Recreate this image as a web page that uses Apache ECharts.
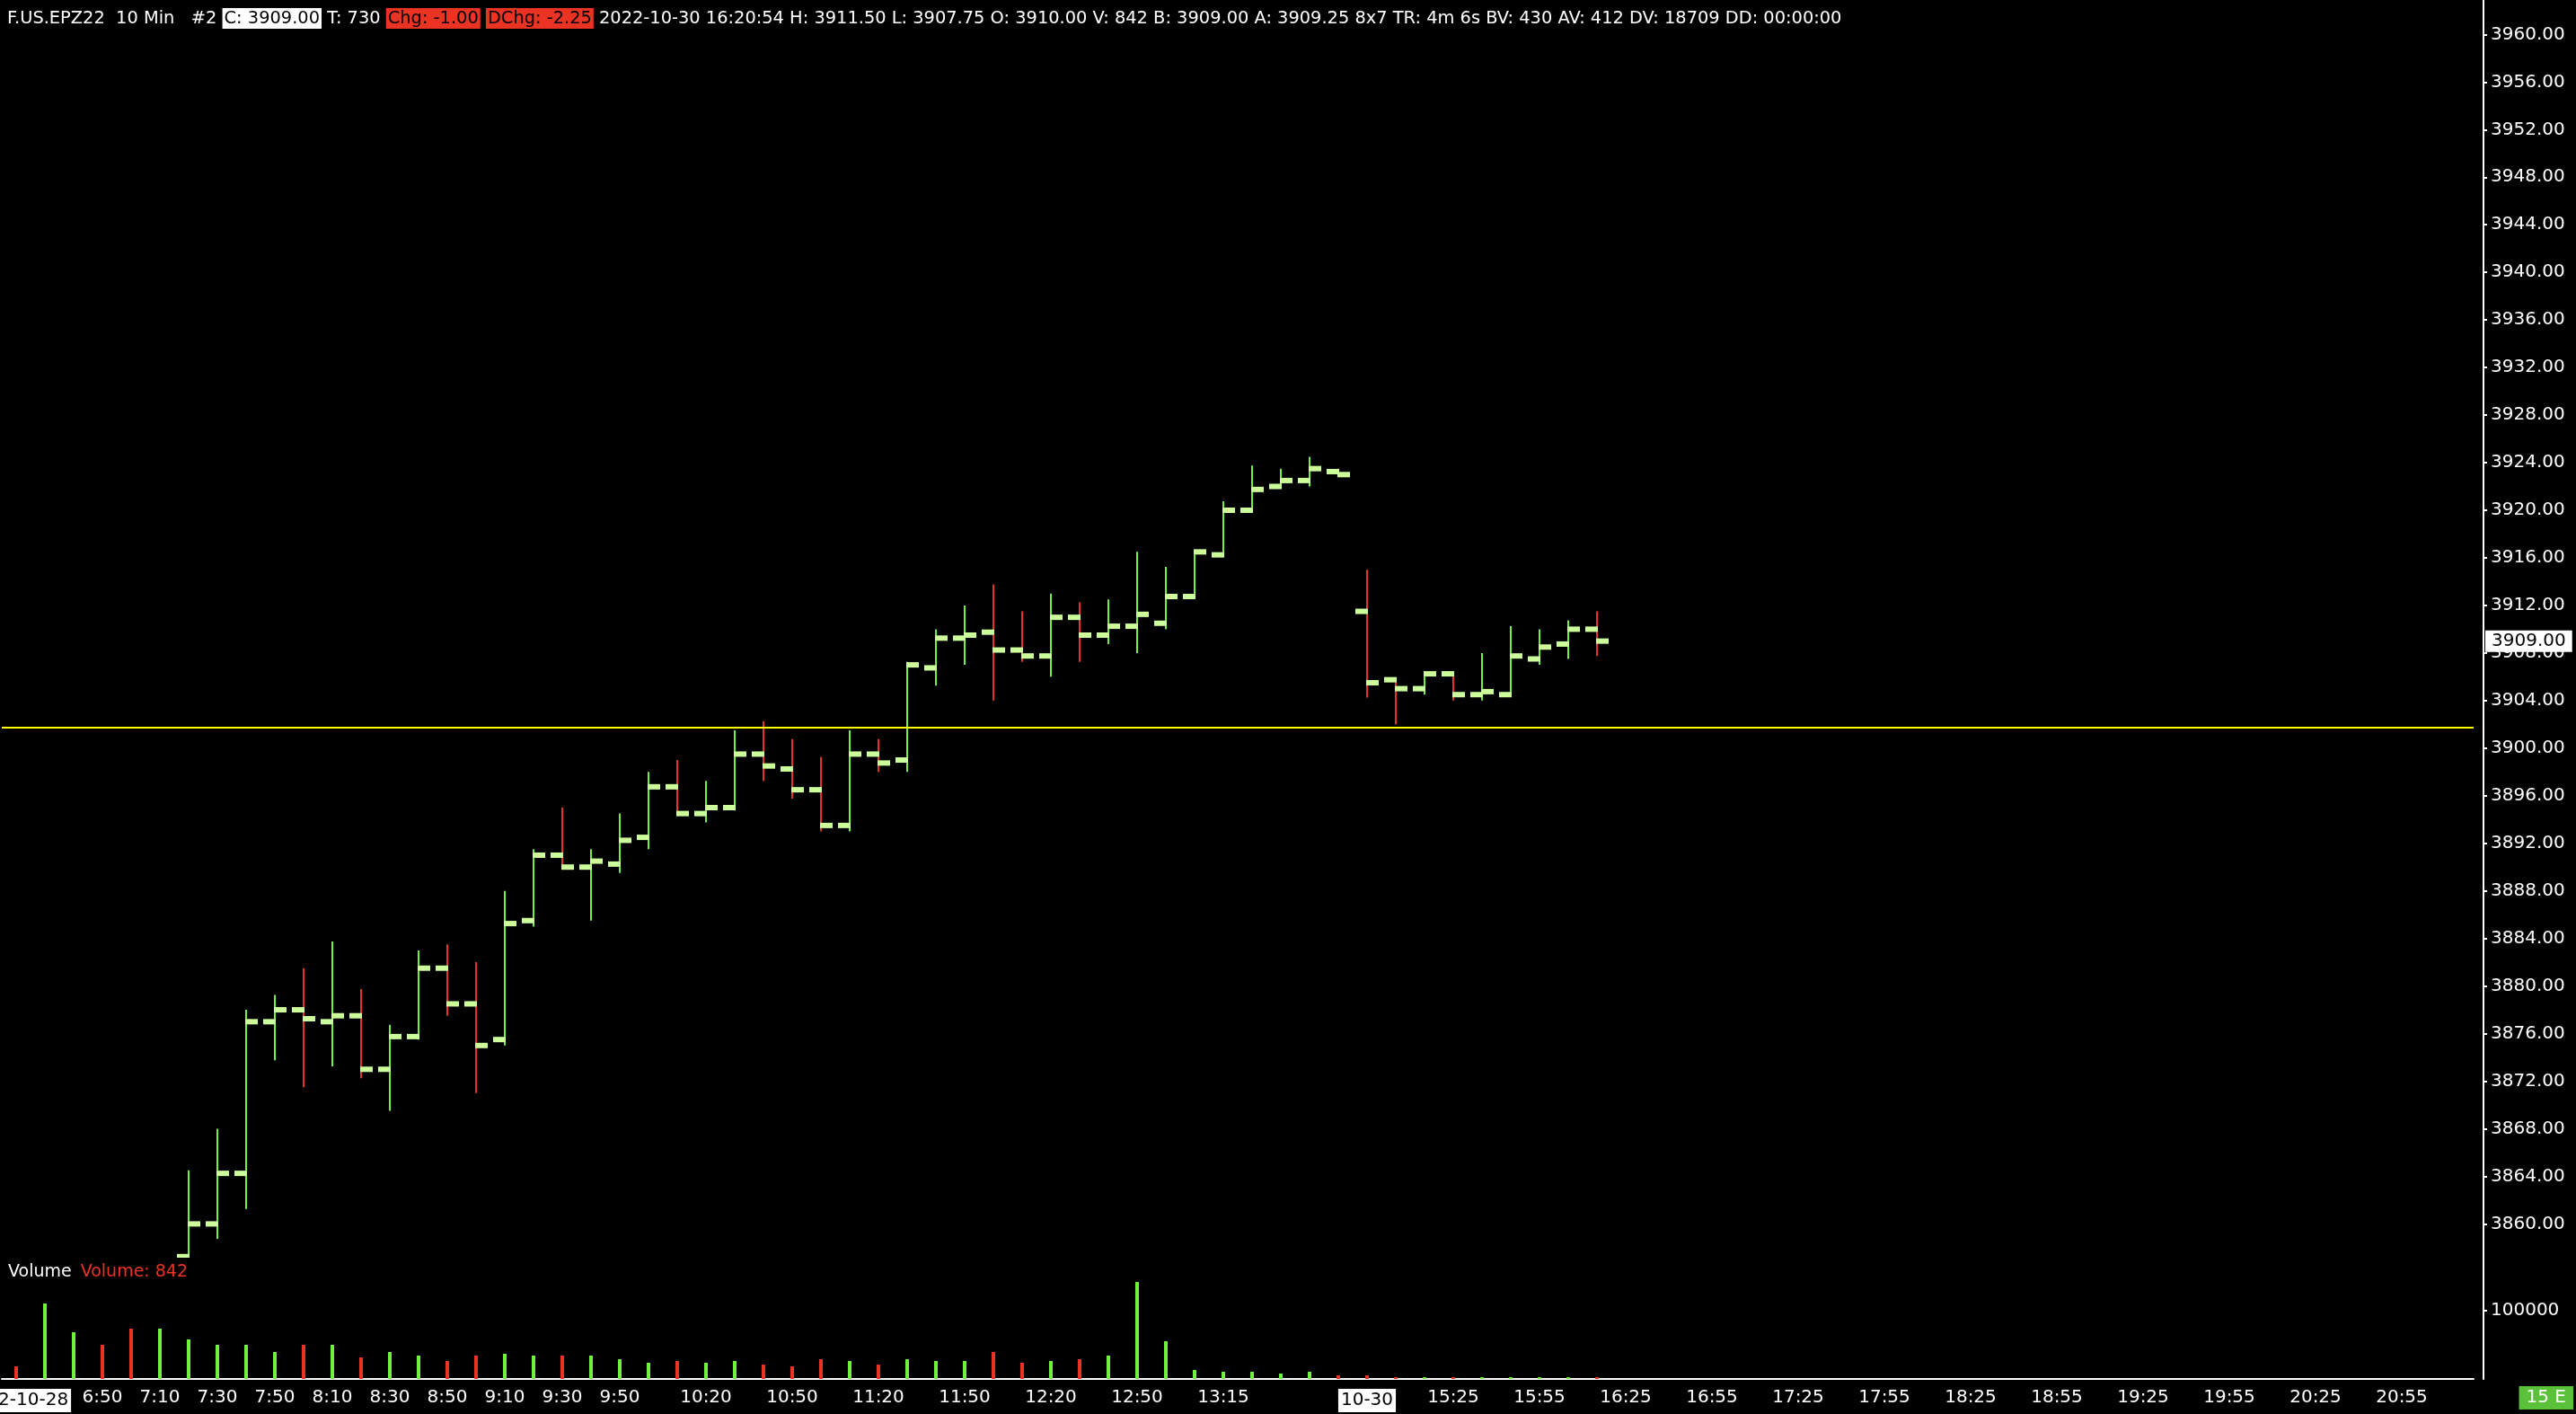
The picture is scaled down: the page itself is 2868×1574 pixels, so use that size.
<!DOCTYPE html>
<html>
<head>
    <meta charset="utf-8">
    <script src="https://cdn.jsdelivr.net/npm/echarts@6/dist/echarts.min.js"></script>
    <style>
        html, body { margin: 0; padding: 0; background: #000; }
    </style>
</head>
<body>
    <div id="main" style="width: 2868px;height:1574px;"></div>
    <script>
        // 10 minute bars, Fri 10-28 day session then Sun 10-30 evening session
        var categories = [
            '6:20', '6:30', '6:40', '6:50', '7:00', '7:10', '7:20', '7:30', '7:40', '7:50',
            '8:00', '8:10', '8:20', '8:30', '8:40', '8:50', '9:00', '9:10', '9:20', '9:30',
            '9:40', '9:50', '10:00', '10:10', '10:20', '10:30', '10:40', '10:50', '11:00', '11:10',
            '11:20', '11:30', '11:40', '11:50', '12:00', '12:10', '12:20', '12:30', '12:40', '12:50',
            '13:00', '13:10', '13:15', '13:25', '13:35', '13:45', '13:55', '14:55', '15:05', '15:15',
            '15:25', '15:35', '15:45', '15:55', '16:05', '16:15', '16:25', '16:35', '16:45', '16:55',
            '17:05', '17:15', '17:25', '17:35', '17:45', '17:55', '18:05', '18:15', '18:25', '18:35',
            '18:45', '18:55', '19:05', '19:15', '19:25', '19:35', '19:45', '19:55', '20:05', '20:15',
            '20:25', '20:35', '20:45', '20:55', '21:05', '21:15'
        ];
        // categories that get a tick + label on the time axis
        var shownTicks = ['6:20', '6:50', '7:10', '7:30', '7:50', '8:10', '8:30', '8:50', '9:10', '9:30',
            '9:50', '10:20', '10:50', '11:20', '11:50', '12:20', '12:50', '13:15', '14:55', '15:25',
            '15:55', '16:25', '16:55', '17:25', '17:55', '18:25', '18:55', '19:25', '19:55', '20:25', '20:55'];
        // session starts show the date instead of the time
        var dateTicks = { '6:20': '2022-10-28', '14:55': '10-30' };

        // price bars, first one visible is 7:20 (earlier bars are below the scale)
        var firstPriceBar = 6;
        var opens = [3857.25, 3860, 3864.25, 3877, 3878, 3877, 3877.5, 3873, 3875.75, 3881.5,
            3878.5, 3875.5, 3885.5, 3891, 3890, 3890.25, 3892.5, 3896.75, 3894.5, 3895,
            3899.5, 3898.25, 3896.5, 3893.5, 3899.5, 3899, 3906.75, 3909.25, 3909.75, 3908.25,
            3907.75, 3911, 3909.5, 3910.25, 3910.5, 3912.75, 3916.25, 3920, 3922, 3922.5,
            3923.25, 3911.5, 3905.75, 3905, 3906.25, 3904.5, 3904.5, 3907.5, 3908.75, 3910];
        var highs = [3864.5, 3868, 3878, 3879.25, 3881.5, 3883.75, 3879.75, 3876.75, 3883, 3883.5,
            3882, 3888, 3891.5, 3895, 3891.5, 3894.5, 3898, 3899, 3897.25, 3901.5,
            3902.25, 3900.75, 3899.25, 3901.5, 3900.75, 3907.25, 3910, 3912, 3913.75, 3911.5,
            3913, 3912.25, 3912.5, 3916.5, 3915.25, 3916.5, 3920.75, 3923.75, 3923.5, 3924.5,
            3923.5, 3915, 3905.75, 3906.25, 3906.25, 3908, 3910.25, 3910, 3910.75, 3911.5];
        var lows = [3857, 3858.75, 3861.25, 3873.75, 3871.5, 3873.25, 3872.25, 3869.5, 3875.5, 3877.5,
            3871, 3875, 3885, 3890, 3885.5, 3889.5, 3891.5, 3894.5, 3893.75, 3894.75,
            3897.25, 3895.75, 3893, 3893, 3898, 3898, 3905.25, 3907, 3904, 3907.25,
            3906, 3907.25, 3908.75, 3908, 3910, 3912.75, 3916.25, 3920, 3922, 3922,
            3923, 3904.25, 3902, 3904.5, 3904, 3904, 3904.5, 3907, 3907.5, 3907.75];
        var closes = [3860, 3864.25, 3877, 3878, 3877.25, 3877.5, 3873, 3875.75, 3881.5, 3878.5,
            3875, 3885.25, 3891, 3890, 3890.5, 3892.25, 3896.75, 3894.5, 3895, 3899.5,
            3898.5, 3896.5, 3893.5, 3899.5, 3898.75, 3907, 3909.25, 3909.5, 3908.25, 3907.75,
            3911, 3909.5, 3910.25, 3911.25, 3912.75, 3916.5, 3920, 3921.75, 3922.5, 3923.5,
            3923, 3905.5, 3905, 3906.25, 3904.5, 3904.75, 3907.75, 3908.5, 3910, 3909];

        var volumes = [18400, 110500, 68400, 50000, 73700, 73700, 57900, 50000, 50000, 39500,
            50000, 50000, 31600, 39500, 34200, 26300, 34200, 36800, 34200, 34200,
            34200, 29000, 23700, 26300, 23700, 26300, 21000, 18400, 29000, 26300,
            21000, 29000, 26300, 26300, 39500, 23700, 26300, 29000, 34200, 142000,
            55300, 13200, 10500, 10500, 7900, 10500, 5300, 5250, 2650, 1320,
            1380, 2300, 2420, 1080, 1467, 842];
        // direction of the bars whose prices are off the scale
        var earlyDirection = ['down', 'up', 'up', 'down', 'down', 'up'];

        var priceTicks = [3860, 3864, 3868, 3872, 3876, 3880, 3884, 3888, 3892, 3896, 3900, 3904, 3908,
            3912, 3916, 3920, 3924, 3928, 3932, 3936, 3940, 3944, 3948, 3952, 3956, 3960];
        var volumeTicks = [100000];
        var referenceLevel = 3901.75;
        var lastPrice = 3909.00;
        var sessionVolume = 842;

        var header = [
            ['n', 'F.US.EPZ22  10 Min   #2 '],
            ['w', 'C: 3909.00'],
            ['n', ' T: 730 '],
            ['r', 'Chg: -1.00'],
            ['n', ' '],
            ['r', 'DChg: -2.25'],
            ['n', ' 2022-10-30 16:20:54 H: 3911.50 L: 3907.75 O: 3910.00 V: 842 B: 3909.00 A: 3909.25 8x7 TR: 4m 6s BV: 430 AV: 412 DV: 18709 DD: 00:00:00']
        ];

        var GREEN = '#6cf43a';
        var RED = '#ea3323';
        var TICK = '#ccff99';
        var FONT = 'DejaVu Sans';

        var ohlcData = [];
        for (var i = 0; i < opens.length; i++) {
            ohlcData.push([firstPriceBar + i, opens[i], highs[i], lows[i], closes[i]]);
        }

        var volumeData = volumes.map(function (v, i) {
            var down;
            if (i < firstPriceBar) {
                down = earlyDirection[i] === 'down';
            } else {
                down = closes[i - firstPriceBar] < opens[i - firstPriceBar];
            }
            return { value: v, itemStyle: { color: down ? RED : GREEN } };
        });

        function renderBar(params, api) {
            var idx = api.value(0);
            var x = api.coord([idx, api.value(1)])[0];
            var yo = api.coord([idx, api.value(1)])[1];
            var yh = api.coord([idx, api.value(2)])[1];
            var yl = api.coord([idx, api.value(3)])[1];
            var yc = api.coord([idx, api.value(4)])[1];
            var down = api.value(4) < api.value(1);
            return {
                type: 'group',
                children: [
                    { type: 'rect', shape: { x: x - 1, y: yh, width: 2, height: Math.max(yl - yh, 1) }, style: { fill: down ? RED : GREEN } },
                    { type: 'rect', shape: { x: x - 13, y: yo - 3, width: 14, height: 6 }, style: { fill: TICK } },
                    { type: 'rect', shape: { x: x - 1, y: yc - 3, width: 14, height: 6 }, style: { fill: TICK } }
                ]
            };
        }

        var headerText = header.map(function (p) { return '{' + p[0] + '|' + p[1] + '}'; }).join('');

        var chart = echarts.init(document.getElementById('main'));

        var axisText = { color: '#fff', fontFamily: FONT, fontSize: 20 };

        var option = {
            backgroundColor: '#000',
            animation: false,
            title: [{
                left: 3,
                top: 4,
                text: headerText,
                textStyle: {
                    fontWeight: 'normal',
                    rich: {
                        n: { color: '#fff', fontFamily: FONT, fontSize: 19.4, fontWeight: 'normal' },
                        w: { color: '#000', backgroundColor: '#fff', fontFamily: FONT, fontSize: 19.4, fontWeight: 'normal', padding: [2, 2] },
                        r: { color: '#000', backgroundColor: RED, fontFamily: FONT, fontSize: 19.4, fontWeight: 'normal', padding: [2, 2] }
                    }
                }
            }, {
                left: 4,
                top: 1402,
                text: '{a|Volume}  {b|Volume: ' + sessionVolume + '}',
                textStyle: {
                    fontWeight: 'normal',
                    rich: {
                        a: { color: '#fff', fontFamily: FONT, fontSize: 19, fontWeight: 'normal' },
                        b: { color: RED, fontFamily: FONT, fontSize: 19, fontWeight: 'normal' }
                    }
                }
            }],
            grid: [
                { left: 2, width: 2752, top: 0, height: 1400, outerBoundsMode: 'none' },
                { left: 2, width: 2752, top: 1400, height: 135, outerBoundsMode: 'none' }
            ],
            xAxis: [{
                type: 'category',
                gridIndex: 0,
                data: categories,
                boundaryGap: true,
                axisLine: { show: false },
                axisTick: { show: false },
                axisLabel: { show: false },
                splitLine: { show: false }
            }, {
                type: 'category',
                gridIndex: 1,
                data: categories,
                boundaryGap: true,
                axisLine: { lineStyle: { color: '#fff', width: 2 } },
                axisTick: {
                    alignWithLabel: true,
                    length: 6,
                    lineStyle: { color: '#fff', width: 2 },
                    interval: function (index, value) { return shownTicks.indexOf(value) >= 0; }
                },
                axisLabel: {
                    color: '#fff',
                    fontFamily: FONT,
                    fontSize: 20,
                    margin: 11,
                    interval: function (index, value) { return shownTicks.indexOf(value) >= 0; },
                    formatter: function (value) {
                        if (dateTicks[value]) {
                            return '{d|' + dateTicks[value] + '}';
                        }
                        return value;
                    },
                    rich: {
                        d: { color: '#000', backgroundColor: '#fff', fontFamily: FONT, fontSize: 20, padding: [3, 3] }
                    }
                },
                splitLine: { show: false }
            }],
            yAxis: [{
                type: 'value',
                gridIndex: 0,
                position: 'right',
                offset: 11,
                min: 3857.16,
                max: 3962.9,
                axisLine: { show: true, lineStyle: { color: '#fff', width: 2 } },
                axisTick: { show: true, length: 4, customValues: priceTicks, lineStyle: { color: '#fff', width: 2 } },
                axisLabel: Object.assign({
                    margin: 8,
                    customValues: priceTicks,
                    formatter: function (v) { return v.toFixed(2); }
                }, axisText),
                splitLine: { show: false }
            }, {
                type: 'value',
                gridIndex: 1,
                position: 'right',
                offset: 11,
                min: 0,
                max: 177600,
                axisLine: { show: true, lineStyle: { color: '#fff', width: 2 } },
                axisTick: { show: true, length: 4, customValues: volumeTicks, lineStyle: { color: '#fff', width: 2 } },
                axisLabel: Object.assign({
                    margin: 8,
                    customValues: volumeTicks,
                    formatter: function (v) { return String(v); }
                }, axisText),
                splitLine: { show: false }
            }],
            graphic: [{
                type: 'text',
                right: 3,
                bottom: 5,
                style: {
                    text: '15 E',
                    fill: '#fff',
                    backgroundColor: '#5cc13a',
                    font: '20px "DejaVu Sans"',
                    padding: [3, 8]
                }
            }],
            series: [{
                name: 'Price',
                type: 'custom',
                xAxisIndex: 0,
                yAxisIndex: 0,
                clip: true,
                renderItem: renderBar,
                encode: { x: 0, y: [1, 2, 3, 4] },
                data: ohlcData,
                z: 3
            }, {
                name: 'Levels',
                type: 'line',
                xAxisIndex: 0,
                yAxisIndex: 0,
                data: [],
                markLine: {
                    silent: true,
                    symbol: ['none', 'none'],
                    animation: false,
                    data: [{
                        yAxis: referenceLevel,
                        lineStyle: { color: '#ffff00', width: 2, type: 'solid' },
                        label: { show: false }
                    }, {
                        yAxis: lastPrice,
                        lineStyle: { color: 'rgba(0,0,0,0)', width: 1 },
                        label: {
                            show: true,
                            position: 'end',
                            distance: 13,
                            formatter: lastPrice.toFixed(2),
                            color: '#000',
                            backgroundColor: '#fff',
                            fontFamily: FONT,
                            fontSize: 20,
                            padding: [2, 7]
                        }
                    }]
                },
                z: 5
            }, {
                name: 'Volume',
                type: 'bar',
                xAxisIndex: 1,
                yAxisIndex: 1,
                barWidth: 4,
                barMinHeight: 2,
                data: volumeData
            }]
        };

        chart.setOption(option);
    </script>
</body>
</html>
